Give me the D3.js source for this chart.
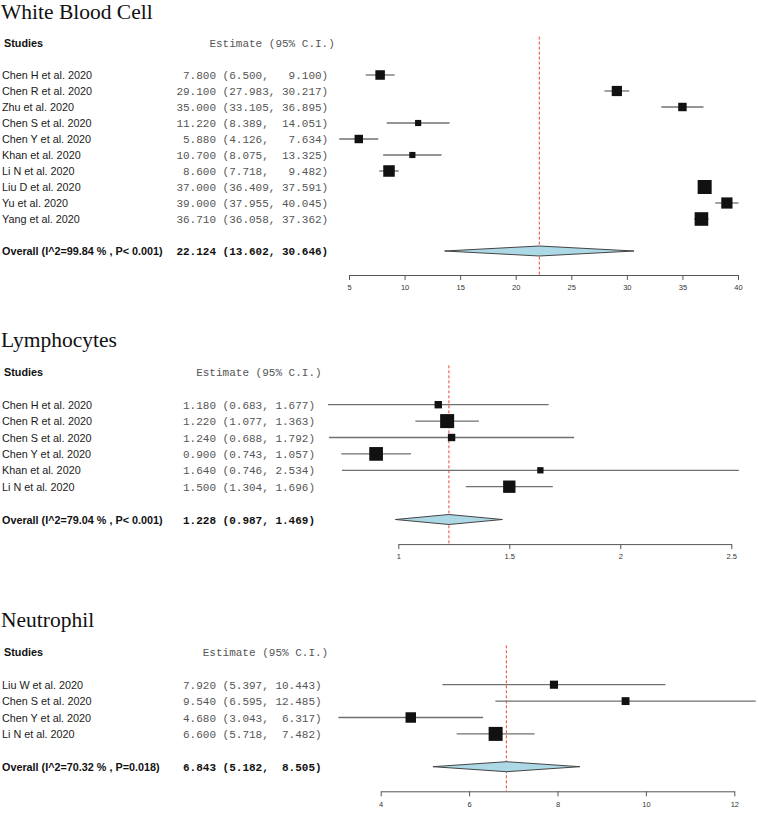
<!DOCTYPE html>
<html>
<head>
<meta charset="utf-8">
<script src="https://cdn.jsdelivr.net/npm/d3@7"></script>
<style>
  body { margin: 0; background: #fff; }
  .title { font-family: "Liberation Serif", serif; font-size: 21.5px; fill: #111; }
  .head { font-family: "Liberation Sans", Arial, sans-serif; font-size: 10.8px; font-weight: bold; fill: #111; }
  .study { font-family: "Liberation Sans", Arial, sans-serif; font-size: 10.8px; fill: #1a1a1a; }
  .num { font-family: "Liberation Mono", monospace; font-size: 11px; fill: #555; white-space: pre; }
  .num.bold { font-weight: bold; fill: #111; }
  .axis text { font-family: "Liberation Sans", Arial, sans-serif; font-size: 7.5px; fill: #333; }
  .axis line, .axis path { stroke: #555; }
</style>
</head>
<body>
<svg width="758" height="814"></svg>
<script>
// ---- White Blood Cell ----
var wbcStudies = ['Chen H et al. 2020', 'Chen R et al. 2020', 'Zhu et al. 2020', 'Chen S et al. 2020', 'Chen Y et al. 2020',
                  'Khan et al. 2020', 'Li N et al. 2020', 'Liu D et al. 2020', 'Yu et al. 2020', 'Yang et al. 2020'];
var wbcEst = [7.800, 29.100, 35.000, 11.220, 5.880, 10.700, 8.600, 37.000, 39.000, 36.710];
var wbcLo = [6.500, 27.983, 33.105, 8.389, 4.126, 8.075, 7.718, 36.409, 37.955, 36.058];
var wbcHi = [9.100, 30.217, 36.895, 14.051, 7.634, 13.325, 9.482, 37.591, 40.045, 37.362];
var wbcWeight = [9.6, 10.3, 8.5, 6.2, 8.5, 6.2, 11.6, 14.1, 11.3, 13.7];
var wbcOverall = [22.124, 13.602, 30.646];
var wbcOverallLabel = 'Overall (I^2=99.84 % , P< 0.001)';
var wbcTicks = [5, 10, 15, 20, 25, 30, 35, 40];

// ---- Lymphocytes ----
var lymStudies = ['Chen H et al. 2020', 'Chen R et al. 2020', 'Chen S et al. 2020', 'Chen Y et al. 2020',
                  'Khan et al. 2020', 'Li N et al. 2020'];
var lymEst = [1.180, 1.220, 1.240, 0.900, 1.640, 1.500];
var lymLo = [0.683, 1.077, 0.688, 0.743, 0.746, 1.304];
var lymHi = [1.677, 1.363, 1.792, 1.057, 2.534, 1.696];
var lymWeight = [12.1, 22.9, 12.1, 22.4, 10.3, 20.2];
var lymOverall = [1.228, 0.987, 1.469];
var lymOverallLabel = 'Overall (I^2=79.04 % , P< 0.001)';
var lymTicks = [1, 1.5, 2, 2.5];

// ---- Neutrophil ----
var neuStudies = ['Liu W et al. 2020', 'Chen S et al. 2020', 'Chen Y et al. 2020', 'Li N et al. 2020'];
var neuEst = [7.920, 9.540, 4.680, 6.600];
var neuLo = [5.397, 6.595, 3.043, 5.718];
var neuHi = [10.443, 12.485, 6.317, 7.482];
var neuWeight = [20.1, 19.4, 25.9, 34.6];
var neuOverall = [6.843, 5.182, 8.505];
var neuOverallLabel = 'Overall (I^2=70.32 % , P=0.018)';
var neuTicks = [4, 6, 8, 10, 12];

function main() {
	var svg = d3.select('svg');

	drawPanel(svg, {
		title: 'White Blood Cell', studies: wbcStudies, est: wbcEst, lo: wbcLo, hi: wbcHi, weight: wbcWeight,
		overall: wbcOverall, overallLabel: wbcOverallLabel, ticks: wbcTicks,
		top: 75, step: 16, xRange: [349, 738]
	});
	drawPanel(svg, {
		title: 'Lymphocytes', studies: lymStudies, est: lymEst, lo: lymLo, hi: lymHi, weight: lymWeight,
		overall: lymOverall, overallLabel: lymOverallLabel, ticks: lymTicks,
		top: 404.7, step: 16.4, xRange: [398.3, 731.3]
	});
	drawPanel(svg, {
		title: 'Neutrophil', studies: neuStudies, est: neuEst, lo: neuLo, hi: neuHi, weight: neuWeight,
		overall: neuOverall, overallLabel: neuOverallLabel, ticks: neuTicks,
		top: 684.7, step: 16.4, xRange: [380.7, 734.3]
	});
}

function drawPanel(svg, p) {
	var n = p.studies.length;
	var g = svg.append('g');

	var x = d3.scaleLinear()
		.domain([p.ticks[0], p.ticks[p.ticks.length - 1]])
		.range(p.xRange);
	// row index -> y; header at -2, overall at n+1
	var y = d3.scaleLinear().domain([0, 1]).range([p.top, p.top + p.step]);
	var box = d3.scaleLinear().domain([0, d3.max(p.weight)]).range([0, 14]);

	var rows = p.studies.map(function(s, i) {
		return { name: s, est: p.est[i], lo: p.lo[i], hi: p.hi[i], w: p.weight[i] };
	});

	// text strings padded like the R output
	var f = d3.format('.3f');
	var estLen = d3.max(p.est.concat([p.overall[0]]), function(v) { return f(v).length; });
	var loLen = d3.max(p.lo.concat([p.overall[1]]), function(v) { return f(v).length; });
	var hiLen = d3.max(p.hi.concat([p.overall[2]]), function(v) { return f(v).length; });
	function ciText(e, l, h) {
		return f(e).padStart(estLen) + ' (' + (f(l) + ',').padEnd(loLen + 1) + ' ' + f(h).padStart(hiLen) + ')';
	}
	var cw = 6.6;
	var numX = 216 - estLen * cw;
	var numEnd = numX + (estLen + loLen + hiLen + 6) * cw;

	g.append('text').attr('class', 'title')
		.attr('x', 1).attr('y', y(-3.55) + 1)
		.text(p.title);

	g.append('text').attr('class', 'head')
		.attr('x', 4).attr('y', y(-2) + 4)
		.text('Studies');
	g.append('text').attr('class', 'num')
		.attr('x', numEnd).attr('y', y(-2) + 4)
		.attr('text-anchor', 'end')
		.text('Estimate (95% C.I.)');

	g.selectAll('text.study')
		.data(rows)
		.enter().append('text')
		.attr('class', 'study')
		.attr('x', 2)
		.attr('y', function(d, i) { return y(i) + 4; })
		.text(function(d) { return d.name; });

	g.selectAll('text.ci')
		.data(rows)
		.enter().append('text')
		.attr('class', 'num ci')
		.attr('x', numX)
		.attr('y', function(d, i) { return y(i) + 4; })
		.text(function(d) { return ciText(d.est, d.lo, d.hi); });

	var yo = y(n + 1);
	g.append('text').attr('class', 'head')
		.attr('x', 2).attr('y', yo + 4)
		.text(p.overallLabel);
	g.append('text').attr('class', 'num bold')
		.attr('x', numX).attr('y', yo + 4)
		.text(ciText(p.overall[0], p.overall[1], p.overall[2]));

	// axis
	var axisY = y(n + 2.5);
	g.append('g')
		.attr('class', 'axis')
		.attr('transform', 'translate(0,' + axisY + ')')
		.call(d3.axisBottom(x).tickValues(p.ticks).tickSize(5).tickSizeOuter(0).tickPadding(5)
			.tickFormat(d3.format('~g')));

	// dashed reference line at pooled estimate
	g.append('line')
		.attr('x1', x(p.overall[0])).attr('x2', x(p.overall[0]))
		.attr('y1', y(-2.4)).attr('y2', axisY)
		.attr('stroke', '#e8483a')
		.attr('stroke-width', 1)
		.attr('stroke-dasharray', '3,2');

	// confidence intervals
	g.selectAll('line.ci')
		.data(rows)
		.enter().append('line')
		.attr('class', 'ci')
		.attr('x1', function(d) { return x(d.lo); })
		.attr('x2', function(d) { return x(d.hi); })
		.attr('y1', function(d, i) { return y(i); })
		.attr('y2', function(d, i) { return y(i); })
		.attr('stroke', '#707070')
		.attr('stroke-width', 1.3);

	// weight boxes
	g.selectAll('rect.box')
		.data(rows)
		.enter().append('rect')
		.attr('class', 'box')
		.attr('x', function(d) { return x(d.est) - box(d.w) / 2; })
		.attr('y', function(d, i) { return y(i) - box(d.w) / 2; })
		.attr('width', function(d) { return box(d.w); })
		.attr('height', function(d) { return box(d.w); })
		.attr('fill', '#111');

	// pooled diamond
	var o = p.overall;
	g.append('path')
		.attr('d', 'M' + x(o[1]) + ',' + yo + 'L' + x(o[0]) + ',' + (yo - 5) +
			'L' + x(o[2]) + ',' + yo + 'L' + x(o[0]) + ',' + (yo + 5) + 'Z')
		.attr('fill', '#add8e6')
		.attr('stroke', '#444')
		.attr('stroke-width', 1);
}

main();
</script>
</body>
</html>
